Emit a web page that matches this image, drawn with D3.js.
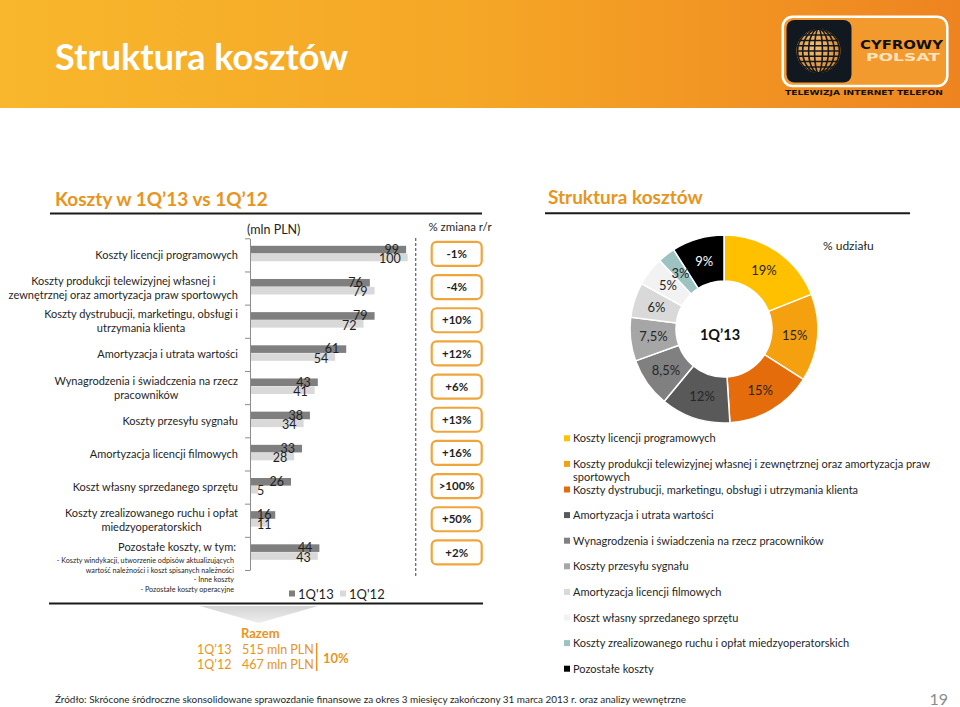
<!DOCTYPE html>
<html><head><meta charset="utf-8">
<script src="https://cdn.jsdelivr.net/npm/d3@7/dist/d3.min.js"></script>
<style>html,body{margin:0;padding:0;background:#fff;} svg{display:block;font-family:Lato,'Open Sans',sans-serif;}</style>
</head><body><svg id="c" width="960" height="707"></svg>
<script>
// ---------------- DATA ----------------
const categoryLines = [
  ["Koszty licencji programowych"],
  ["Koszty produkcji telewizyjnej własnej i", "zewnętrznej oraz amortyzacja praw sportowych"],
  ["Koszty dystrubucji, marketingu, obsługi i", "utrzymania klienta"],
  ["Amortyzacja i utrata wartości"],
  ["Wynagrodzenia i świadczenia na rzecz", "pracowników"],
  ["Koszty przesyłu sygnału"],
  ["Amortyzacja licencji filmowych"],
  ["Koszt własny sprzedanego sprzętu"],
  ["Koszty zrealizowanego ruchu i opłat", "miedzyoperatorskich"],
  ["Pozostałe koszty, w tym:"]
];
const otherCostsSub = [
  "- Koszty windykacji, utworzenie odpisów aktualizujących",
  "wartość należności i koszt spisanych należności",
  "- Inne koszty",
  "- Pozostałe koszty operacyjne"
];
const values1Q13 = [99, 76, 79, 61, 43, 38, 33, 26, 16, 44];
const values1Q12 = [100, 79, 72, 54, 41, 34, 28, 5, 11, 43];
const changeLabels = ["-1%", "-4%", "+10%", "+12%", "+6%", "+13%", "+16%", ">100%", "+50%", "+2%"];
const seriesNames = ["1Q'13", "1Q'12"];

const totalPeriods = ["1Q’13", "1Q’12"];
const totalValues = [515, 467];
const totalChange = "10%";

const shareValues = [19, 15, 15, 12, 8.5, 7.5, 6, 5, 3, 9];
const shareLabels = ["19%", "15%", "15%", "12%", "8,5%", "7,5%", "6%", "5%", "3%", "9%"];
const shareNames = [
  ["Koszty licencji programowych"],
  ["Koszty produkcji telewizyjnej własnej i zewnętrznej oraz amortyzacja praw", "sportowych"],
  ["Koszty dystrubucji, marketingu, obsługi i utrzymania klienta"],
  ["Amortyzacja i utrata wartości"],
  ["Wynagrodzenia i świadczenia na rzecz pracowników"],
  ["Koszty przesyłu sygnału"],
  ["Amortyzacja licencji filmowych"],
  ["Koszt własny sprzedanego sprzętu"],
  ["Koszty zrealizowanego ruchu i opłat miedzyoperatorskich"],
  ["Pozostałe koszty"]
];

// ---------------- STYLES ----------------
const shareColors = ["#FFC000", "#F5A00F", "#E46C0A", "#595959", "#808080", "#A6A6A6", "#D9D9D9", "#F2F2F2", "#9CC3C2", "#000000"];
const barColors = ["#7F7F7F", "#D9D9D9"];
const orange = "#E8951E";
const textCol = "#1f1f1f";

const svg = d3.select("#c");
const defs = svg.append("defs");

// ---------------- HEADER ----------------
const hg = defs.append("linearGradient").attr("id", "hdr").attr("x1", 0).attr("x2", 1).attr("y1", 0).attr("y2", 0);
hg.append("stop").attr("offset", 0).attr("stop-color", "#F8B72C");
hg.append("stop").attr("offset", 0.5).attr("stop-color", "#F5A626");
hg.append("stop").attr("offset", 1).attr("stop-color", "#EE8420");
svg.append("rect").attr("x", 0).attr("y", 0).attr("width", 960).attr("height", 108).attr("fill", "url(#hdr)");
svg.append("text").attr("x", 55).attr("y", 70).attr("fill", "#fff").attr("font-weight", 700)
  .attr("font-size", 36).text("Struktura kosztów");

// logo
const logo = svg.append("g");
logo.append("rect").attr("x", 782.7).attr("y", 16.7).attr("width", 164.6).attr("height", 69.3).attr("rx", 10)
  .attr("fill", "#F29A2E").attr("stroke", "#fff").attr("stroke-width", 2.5);
logo.append("rect").attr("x", 786.5).attr("y", 20).attr("width", 65).attr("height", 62.5).attr("rx", 8).attr("fill", "#121820");
const gcx = 818.5, gcy = 51, gr = 22;
defs.append("clipPath").attr("id", "globeClip").append("circle").attr("cx", gcx).attr("cy", gcy).attr("r", gr);
const rg = defs.append("radialGradient").attr("id", "globeGrad").attr("cx", "40%").attr("cy", "40%").attr("r", "65%");
rg.append("stop").attr("offset", 0).attr("stop-color", "#F8C070");
rg.append("stop").attr("offset", 1).attr("stop-color", "#D9892A");
logo.append("circle").attr("cx", gcx).attr("cy", gcy).attr("r", gr).attr("fill", "url(#globeGrad)");
const gl = logo.append("g").attr("clip-path", "url(#globeClip)").attr("stroke", "#121820").attr("stroke-width", 1.6).attr("fill", "none");
[0.18, 0.45, 0.72, 0.95].forEach(k => gl.append("ellipse").attr("cx", gcx).attr("cy", gcy).attr("rx", gr * k).attr("ry", gr));
[-16, -10.5, -5.2, 0, 5.2, 10.5, 16].forEach(o => gl.append("line").attr("x1", gcx - gr).attr("x2", gcx + gr).attr("y1", gcy + o).attr("y2", gcy + o));
logo.append("text").attr("x", 860).attr("y", 48.5).attr("font-family", "'DejaVu Sans',sans-serif").attr("font-weight", 700)
  .attr("font-size", 11.5).attr("fill", "#111").attr("textLength", 83).attr("lengthAdjust", "spacingAndGlyphs").text("CYFROWY");
logo.append("text").attr("x", 866).attr("y", 61).attr("font-family", "'DejaVu Sans',sans-serif").attr("font-weight", 700)
  .attr("font-size", 10.5).attr("fill", "#FBE3BF").attr("textLength", 74).attr("lengthAdjust", "spacingAndGlyphs").text("POLSAT");
logo.append("text").attr("x", 785).attr("y", 94.5).attr("font-family", "'DejaVu Sans',sans-serif").attr("font-weight", 700)
  .attr("font-size", 7).attr("fill", "#111").attr("textLength", 158).attr("lengthAdjust", "spacingAndGlyphs").text("TELEWIZJA INTERNET TELEFON");

// ---------------- SECTION TITLES ----------------
svg.append("text").attr("x", 55).attr("y", 206).attr("fill", orange).attr("font-weight", 700).attr("font-size", 19)
  .text("Koszty w 1Q’13 vs 1Q’12");
svg.append("line").attr("x1", 50).attr("x2", 482).attr("y1", 213.5).attr("y2", 213.5).attr("stroke", "#1a1a1a").attr("stroke-width", 2);
svg.append("text").attr("x", 548).attr("y", 204).attr("fill", orange).attr("font-weight", 700).attr("font-size", 19)
  .text("Struktura kosztów");
svg.append("line").attr("x1", 545).attr("x2", 910).attr("y1", 213.3).attr("y2", 213.3).attr("stroke", "#1a1a1a").attr("stroke-width", 2);

// ---------------- BAR CHART ----------------
const n = categoryLines.length;
const y = d3.scaleBand().domain(d3.range(n)).range([238.3, 570]);
const x = d3.scaleLinear().domain([0, 100]).range([250, 407.7]);
const barOff = 7.5, barH = 7.6;
const bw = y.bandwidth();

svg.append("text").attr("x", 247).attr("y", 234).attr("font-size", 12.5).attr("fill", textCol).text("(mln PLN)");
svg.append("text").attr("x", 460).attr("y", 231).attr("text-anchor", "middle").attr("font-size", 11.5).attr("fill", textCol).text("% zmiana r/r");

const chart = svg.append("g");
const series = [values1Q13, values1Q12];
series.forEach((vals, s) => {
  chart.selectAll(".bar" + s).data(vals).enter().append("rect")
    .attr("x", x(0))
    .attr("y", (d, i) => y(i) + barOff + s * (barH + 0.3))
    .attr("width", d => x(d) - x(0))
    .attr("height", barH)
    .attr("fill", barColors[s]);
});
series.forEach((vals, s) => {
  chart.selectAll(".lab" + s).data(vals).enter().append("text")
    .attr("font-size", 12.5).attr("fill", textCol).attr("text-anchor", "end")
    .attr("y", (d, i) => y(i) + barOff + barH * (s + 1) + (s ? 2.3 : 0.5))
    .text(d => d)
    .each(function (d) {
      const w = this.getComputedTextLength();
      d3.select(this).attr("x", Math.max(x(d) - 7, x(0) + w + 7));
    });
});

const yTicks = d3.scaleLinear().domain([0, n]).range([238.3, 570]);
const axis = svg.append("g").attr("transform", "translate(250,0)")
  .call(d3.axisLeft(yTicks).ticks(n).tickSize(5).tickSizeOuter(0).tickFormat(""));
axis.selectAll("path,line").attr("stroke", "#8C8C8C");

// category labels
const catG = svg.append("g").attr("font-size", 11).attr("fill", textCol);
categoryLines.forEach((lines, i) => {
  const c = y(i) + bw / 2;
  if (i === n - 1) {
    catG.append("text").attr("x", 236).attr("y", c - 2).attr("text-anchor", "end").text(lines[0]);
    otherCostsSub.forEach((t, k) => {
      catG.append("text").attr("x", 234).attr("y", c + 9.5 + k * 9.6).attr("text-anchor", "end").attr("font-size", 7.2).text(t);
    });
    return;
  }
  const ts = lines.map((t, k) => catG.append("text").attr("text-anchor", "middle")
    .attr("y", c + (k - (lines.length - 1) / 2) * 14 + 4).text(t));
  const maxW = d3.max(ts, t => t.node().getComputedTextLength());
  ts.forEach(t => t.attr("x", 238 - maxW / 2));
});

// dashed separator
svg.append("line").attr("x1", 415.7).attr("x2", 415.7).attr("y1", 238).attr("y2", 576)
  .attr("stroke", "#6b6b6b").attr("stroke-width", 1.3).attr("stroke-dasharray", "3,2");

// change boxes
const boxG = svg.append("g");
changeLabels.forEach((t, i) => {
  const c = y(i) + bw / 2 - 1;
  boxG.append("rect").attr("x", 431.7).attr("y", c - 12).attr("width", 50).attr("height", 24).attr("rx", 5)
    .attr("fill", "#fff").attr("stroke", "#F0A53A").attr("stroke-width", 2.2);
  boxG.append("text").attr("x", 456.7).attr("y", c + 4.2).attr("text-anchor", "middle")
    .attr("font-weight", 700).attr("font-size", 11.5).attr("fill", textCol).text(t);
});

// bar legend
const legX = [289, 340];
seriesNames.forEach((s, k) => {
  svg.append("rect").attr("x", legX[k]).attr("y", 590.5).attr("width", 6).attr("height", 6).attr("fill", barColors[k]);
  svg.append("text").attr("x", legX[k] + 9).attr("y", 598.5).attr("font-size", 13).attr("fill", textCol).text(s);
});

// bottom line & arrow
svg.append("line").attr("x1", 49).attr("x2", 483).attr("y1", 603.5).attr("y2", 603.5).attr("stroke", "#1a1a1a").attr("stroke-width", 2);
const ag = defs.append("linearGradient").attr("id", "arrowG").attr("x1", 0).attr("x2", 0).attr("y1", 0).attr("y2", 1);
ag.append("stop").attr("offset", 0).attr("stop-color", "#D4D4D4");
ag.append("stop").attr("offset", 1).attr("stop-color", "#EDEDED");
svg.append("path").attr("d", "M200,606 L318,606 L259,623 Z").attr("fill", "url(#arrowG)");

// totals
const totG = svg.append("g").attr("fill", orange);
totG.append("text").attr("x", 241).attr("y", 638).attr("font-weight", 700).attr("font-size", 13).text("Razem");
totalPeriods.forEach((p, k) => {
  totG.append("text").attr("x", 197).attr("y", 654 + k * 14.5).attr("font-size", 12.5).text(p);
  totG.append("text").attr("x", 242).attr("y", 654 + k * 14.5).attr("font-size", 12.5).text(totalValues[k] + " mln PLN");
});
svg.append("line").attr("x1", 316.7).attr("x2", 316.7).attr("y1", 643).attr("y2", 671).attr("stroke", orange).attr("stroke-width", 1.5);
totG.append("text").attr("x", 323).attr("y", 663).attr("font-weight", 700).attr("font-size", 13).text(totalChange);

// ---------------- DONUT ----------------
const cx = 724, cy = 329;
const pie = d3.pie().sort(null).value(d => d)(shareValues);
const arc = d3.arc().innerRadius(48).outerRadius(94);
const labArc = d3.arc().innerRadius(71).outerRadius(71);
const dg = svg.append("g").attr("transform", `translate(${cx},${cy})`);
dg.selectAll("path").data(pie).enter().append("path")
  .attr("d", arc).attr("fill", (d, i) => shareColors[i]).attr("stroke", "#fff").attr("stroke-width", 1.5);
dg.selectAll(".pl").data(pie).enter().append("text")
  .attr("transform", d => `translate(${labArc.centroid(d)})`)
  .attr("text-anchor", "middle").attr("dy", "0.36em").attr("font-size", 13)
  .attr("fill", (d, i) => i === shareValues.length - 1 ? "#fff" : "#262626")
  .text((d, i) => shareLabels[i]);
dg.append("text").attr("x", -4).attr("y", 11).attr("text-anchor", "middle").attr("font-weight", 700).attr("font-size", 14.5)
  .attr("fill", "#111").text("1Q’13");
svg.append("text").attr("x", 823).attr("y", 250).attr("font-size", 12).attr("fill", textCol).text("% udziału");

// donut legend
const lg = svg.append("g").attr("font-size", 11).attr("fill", textCol);
shareNames.forEach((lines, i) => {
  const c = 438.3 + i * 25.6;
  lg.append("rect").attr("x", 564).attr("y", c - 3).attr("width", 6).attr("height", 6).attr("fill", shareColors[i]);
  lines.forEach((t, k) => lg.append("text").attr("x", 573).attr("y", c + 4 + k * 13.5).text(t));
});

// ---------------- FOOTER ----------------
const ft = svg.append("text").attr("x", 55).attr("y", 702.5).attr("font-size", 10).attr("fill", textCol)
  .text("Źródło: Skrócone śródroczne skonsolidowane sprawozdanie finansowe za okres 3 miesięcy zakończony 31 marca 2013 r. oraz analizy wewnętrzne");
if (ft.node().getComputedTextLength() > 631) ft.attr("textLength", 631).attr("lengthAdjust", "spacingAndGlyphs");
svg.append("text").attr("x", 948).attr("y", 705).attr("text-anchor", "end").attr("font-size", 16).attr("fill", "#8C8C8C").text("19");
</script></body></html>
